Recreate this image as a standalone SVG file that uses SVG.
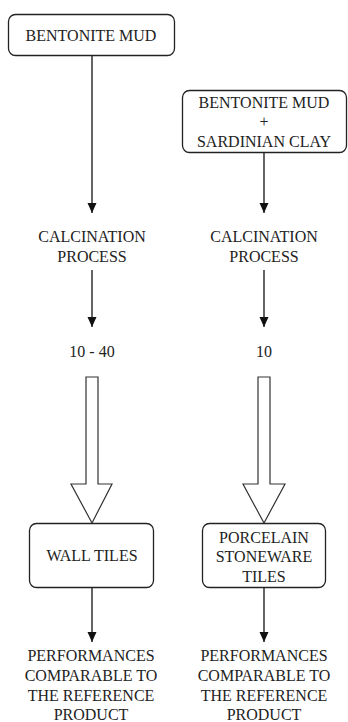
<svg xmlns="http://www.w3.org/2000/svg" width="348" height="722" viewBox="0 0 348 722">
  <style>
    .box { fill: #ffffff; stroke: #222222; stroke-width: 1.3; }
    .lbl { font-family: "Liberation Serif", "DejaVu Serif", "Times New Roman", serif; font-size: 16px; fill: #222222; text-anchor: middle; }
    .wire { stroke: #111111; stroke-width: 1.3; fill: none; }
    .fat { fill: #ffffff; stroke: #333333; stroke-width: 1.2; stroke-linejoin: miter; }
  </style>
  <defs>
    <marker id="head" markerUnits="userSpaceOnUse" markerWidth="10" markerHeight="10" viewBox="0 0 10 10" refX="10" refY="5" orient="auto">
      <path d="M0,0.5 L10,5 L0,9.5 Z" fill="#111111"/>
    </marker>
  </defs>
  <rect width="348" height="722" fill="#ffffff"/>

  <!-- connectors -->
  <g id="connectors">
    <line class="wire" x1="92" y1="55" x2="92" y2="213" marker-end="url(#head)"/>
    <line class="wire" x1="264" y1="153" x2="264" y2="213" marker-end="url(#head)"/>
    <line class="wire" x1="92" y1="270" x2="92" y2="327" marker-end="url(#head)"/>
    <line class="wire" x1="264" y1="270" x2="264" y2="327" marker-end="url(#head)"/>
    <path class="fat" d="M86,377 L98,377 L98,484 L112,484 L92,523 L71,484 L86,484 Z"/>
    <path class="fat" d="M258,377 L270,377 L270,484 L285,484 L264,523 L243,484 L258,484 Z"/>
    <line class="wire" x1="92" y1="588" x2="92" y2="642" marker-end="url(#head)"/>
    <line class="wire" x1="264" y1="588" x2="264" y2="642" marker-end="url(#head)"/>
  </g>

  <g id="bentonite-mud">
    <rect class="box" x="8.5" y="14.5" width="166" height="41" rx="7"/>
    <text class="lbl" x="91" y="40.5" style="font-family: 'Liberation Serif', serif">BENTONITE MUD</text>
  </g>

  <g id="bentonite-sardinian">
    <rect class="box" x="182.5" y="90.5" width="164" height="62" rx="7"/>
    <text class="lbl" x="264" y="107.5">BENTONITE MUD</text>
    <text class="lbl" x="264" y="126.5">+</text>
    <text class="lbl" x="264" y="146.5">SARDINIAN CLAY</text>
  </g>

  <g id="calcination-left">
    <text class="lbl" x="92" y="241.5">CALCINATION</text>
    <text class="lbl" x="92" y="261.5">PROCESS</text>
  </g>

  <g id="calcination-right">
    <text class="lbl" x="264" y="241.5">CALCINATION</text>
    <text class="lbl" x="264" y="261.5">PROCESS</text>
  </g>

  <g id="ratio-left">
    <text class="lbl" x="92" y="356.5">10 - 40</text>
  </g>

  <g id="ratio-right">
    <text class="lbl" x="264" y="356.5">10</text>
  </g>

  <g id="wall-tiles">
    <rect class="box" x="29.5" y="523.5" width="124" height="64" rx="7"/>
    <text class="lbl" x="92" y="560.5">WALL TILES</text>
  </g>

  <g id="porcelain-tiles">
    <rect class="box" x="202.5" y="523.5" width="123" height="64" rx="7"/>
    <text class="lbl" x="264" y="542.5">PORCELAIN</text>
    <text class="lbl" x="264" y="561.5">STONEWARE</text>
    <text class="lbl" x="264" y="581.5">TILES</text>
  </g>

  <g id="result-left">
    <text class="lbl" x="91" y="660.5">PERFORMANCES</text>
    <text class="lbl" x="91" y="680.5">COMPARABLE TO</text>
    <text class="lbl" x="91" y="700.5">THE REFERENCE</text>
    <text class="lbl" x="91" y="719.5">PRODUCT</text>
  </g>

  <g id="result-right">
    <text class="lbl" x="264" y="660.5">PERFORMANCES</text>
    <text class="lbl" x="264" y="680.5">COMPARABLE TO</text>
    <text class="lbl" x="264" y="700.5">THE REFERENCE</text>
    <text class="lbl" x="264" y="719.5">PRODUCT</text>
  </g>
</svg>
